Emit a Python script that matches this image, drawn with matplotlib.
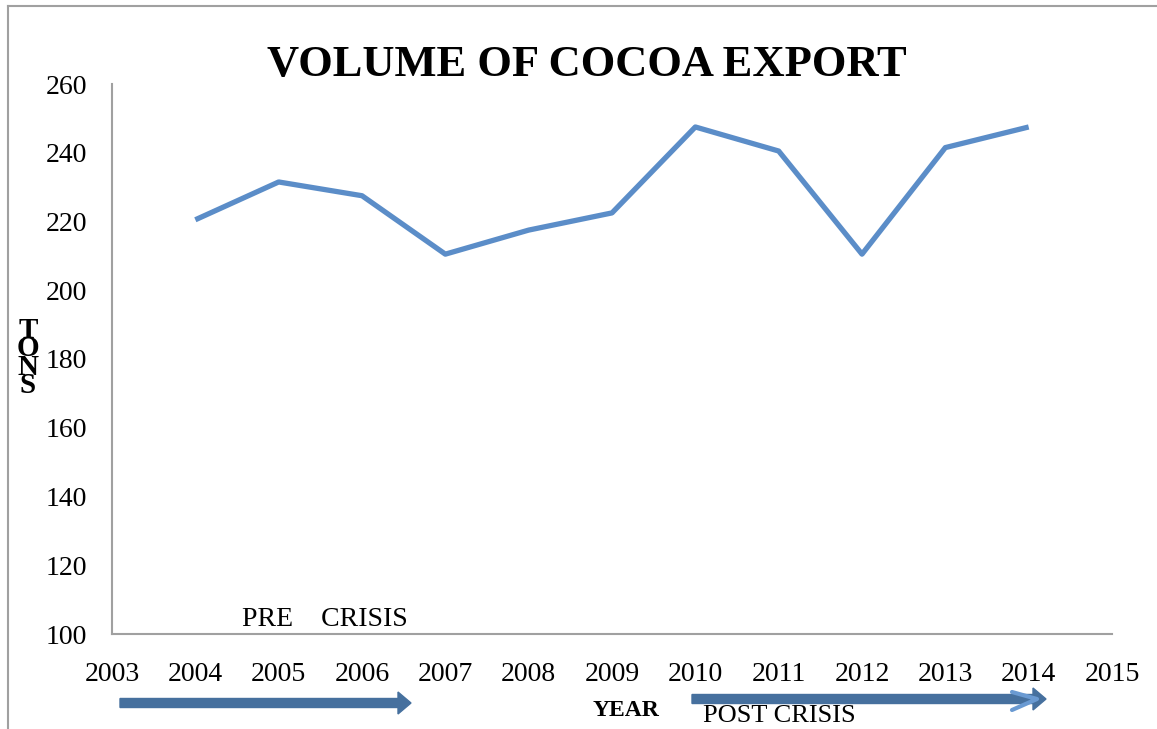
import matplotlib
matplotlib.use("Agg")
import matplotlib.pyplot as plt
from matplotlib.lines import Line2D
from matplotlib.patches import FancyArrow

years = [2004, 2005, 2006, 2007, 2008, 2009, 2010, 2011, 2012, 2013, 2014]
tons = [220.5, 231.5, 227.5, 210.5, 217.5, 222.5, 247.5, 240.5, 210.5, 241.5, 247.5]
xticks = list(range(2003, 2016))
yticks = list(range(100, 261, 20))

plt.rcParams['font.family'] = ['Liberation Serif', 'DejaVu Serif']

fig = plt.figure(figsize=(11.57, 7.29), dpi=100)
ax = fig.add_axes([112/1157, 95/729, 1000/1157, 550/729])

ax.plot(years, tons, color='#5b8dc8', linewidth=3.8, solid_capstyle='butt')

ax.set_xlim(2003, 2015)
ax.set_ylim(100, 260)
ax.set_xticks(xticks)
ax.set_yticks(yticks)
ax.tick_params(axis='both', length=0, labelsize=20)
ax.tick_params(axis='y', pad=18)
ax.tick_params(axis='x', pad=20)
for s in ['top', 'right']:
    ax.spines[s].set_visible(False)
for s in ['left', 'bottom']:
    ax.spines[s].set_color('#a0a0a0')
    ax.spines[s].set_linewidth(1.5)

fig.text(0.507, 1 - 65/729, 'VOLUME OF COCOA EXPORT', ha='center', va='center',
         fontsize=32, fontweight='bold')

# outer frame
fig.add_artist(Line2D([8/1157, 1], [1 - 6/729, 1 - 6/729], color='#a0a0a0', lw=1.5))
fig.add_artist(Line2D([8/1157, 8/1157], [0, 1 - 6/729], color='#a0a0a0', lw=1.5))

fig.text(28/1157, 1 - 358/729, 'T\nO\nN\nS', ha='center', va='center',
         fontsize=21, fontweight='bold', linespacing=0.6)

fig.text(325/1157, 1 - 619/729, 'PRE    CRISIS', ha='center', va='center', fontsize=20)
fig.text(626/1157, 1 - 710/729, 'YEAR', ha='center', va='center', fontsize=17, fontweight='bold')
fig.text(779/1157, 1 - 716/729, 'POST CRISIS', ha='center', va='center', fontsize=19)

fig.add_artist(FancyArrow(
    120/1157, 1 - 703/729, 291/1157, 0, width=9/729, head_width=22/729,
    head_length=13/1157, length_includes_head=True, color='#46709e',
    transform=fig.transFigure))
fig.add_artist(FancyArrow(
    692/1157, 1 - 699/729, 354/1157, 0, width=9/729, head_width=22/729,
    head_length=13/1157, length_includes_head=True, color='#46709e',
    transform=fig.transFigure))
fig.add_artist(Line2D([1012/1157, 1037/1157, 1012/1157],
                      [1 - 692/729, 1 - 699/729, 1 - 710/729],
                      color='#6a9ad2', lw=3, solid_capstyle='round'))

fig.savefig('out.png', dpi=100)
